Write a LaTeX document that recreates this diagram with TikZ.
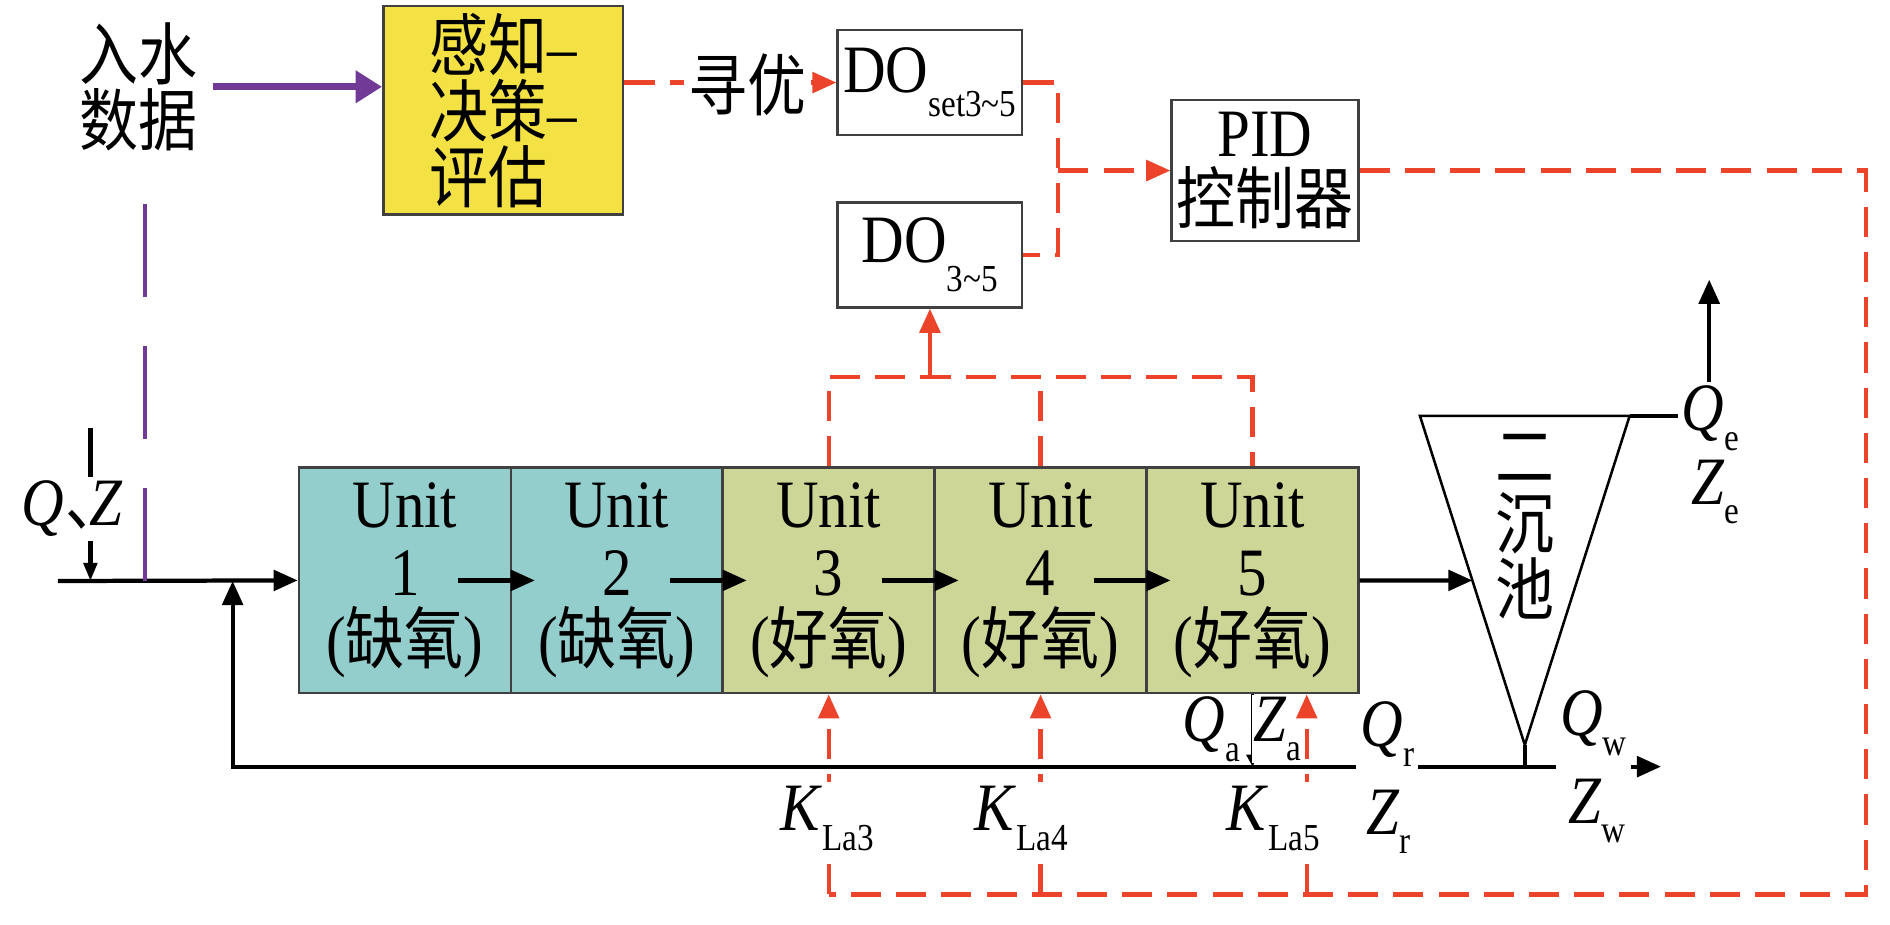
\documentclass[tikz,border=0pt]{standalone}
\usepackage{fontspec}
\setmainfont{Liberation Serif}[FakeStretch=0.87]
\newfontfamily\cjk{Noto Sans CJK SC}[FakeStretch=0.87]
\usetikzlibrary{arrows.meta, positioning, calc}
\definecolor{senseyellow}{RGB}{244,226,68}
\definecolor{anoxteal}{RGB}{148,206,204}
\definecolor{aerogreen}{RGB}{205,214,150}
\definecolor{ctrlred}{RGB}{236,68,42}
\definecolor{datapurple}{RGB}{112,58,150}
\newcommand{\lowsub}[2][0.16cm]{\raisebox{-#1}{\fontsize{9pt}{9pt}\selectfont #2}}
\newcommand{\bigcjk}{\fontsize{16pt}{15.6pt}\selectfont\cjk}

\begin{document}
\begin{tikzpicture}[font=\fontsize{16pt}{16pt}\selectfont, >={Triangle[length=0.2cm, width=0.17cm]}]
    % Define styles
    \tikzstyle{blockbox}=[draw=black!75, line width=0.6pt, inner sep=1pt]
    \tikzstyle{tank}=[blockbox, minimum width=1.758cm, minimum height=1.87cm, align=center]
    \tikzstyle{flow}=[line width=1pt, ->]
    \tikzstyle{ctrl}=[ctrlred, line width=1pt, dash pattern=on 0.25cm off 0.125cm]
    \tikzstyle{lbl}=[fill=white, inner sep=1pt]

    % Canvas
    \fill[white] (0,0) rectangle (15.68,-7.67);

    % Influent data and sensing block
    \node[align=center, font=\bigcjk] (indata) at (1.15,-0.72) {入水\\数据};
    \node[blockbox, fill=senseyellow, minimum width=1.99cm, minimum height=1.73cm, align=left, font=\bigcjk] (sense) at (4.175,-0.915) {感知{\rmfamily –}\\决策{\rmfamily –}\\评估};
    \draw[datapurple, line width=1.6pt, -{Triangle[length=0.22cm, width=0.26cm]}] (indata.east) -- (indata.east -| sense.west);

    % DO boxes and PID controller
    \node[blockbox, minimum width=1.53cm, minimum height=0.87cm, inner sep=0pt] (doset) at (7.715,-0.685) {DO\lowsub[0.2cm]{set3\textasciitilde5}};
    \node[blockbox, minimum width=1.53cm, minimum height=0.87cm] (dofb) at (7.715,-2.115) {DO\lowsub[0.24cm]{3\textasciitilde5}};
    \node[blockbox, minimum width=1.55cm, minimum height=1.17cm, align=center, inner sep=0pt] (pid) at (10.495,-1.415) {PID\\{\cjk 控制器}};

    % Reactor units (2 anoxic, 3 aerobic)
    \foreach \i/\x/\fc/\state in {1/3.359/anoxteal/缺氧, 2/5.117/anoxteal/缺氧, 3/6.875/aerogreen/好氧, 4/8.633/aerogreen/好氧, 5/10.391/aerogreen/好氧} {
        \node[tank, fill=\fc] (u\i) at (\x,-4.815) {Unit\\\i\\({\cjk \state})};
    }
    \foreach \i/\j in {1/2, 2/3, 3/4, 4/5} {
        \draw[flow] ([xshift=0.44cm]u\i.center) -- ([xshift=-0.68cm]u\j.center);
    }

    % Secondary clarifier
    \coordinate (stl) at (11.78,-3.45);
    \coordinate (str) at (13.52,-3.45);
    \coordinate (sbt) at (12.65,-6.18);
    \coordinate (sst) at (12.65,-6.36);
    \draw[line width=0.6pt] (stl) -- (str) -- (sbt) -- cycle;
    \draw[line width=1pt] (sbt) -- (sst);
    \node[align=center, font=\bigcjk] (clar) at (12.65,-4.37) {二\\沉\\池};
    \draw[flow] (u5.east) -- ($(stl)!0.5!(sbt)$);

    % Influent line
    \coordinate (inlet) at (0.48,-4.82);
    \coordinate (mix) at (1.93,-4.82);
    \coordinate (qztop) at (0.75,-3.55);
    \coordinate (tap) at (1.20,-4.82);
    \coordinate (tapend) at (1.20,-1.69);
    \draw[flow] (inlet) -- (u1.west);
    \draw[flow, >={Triangle[length=0.15cm, width=0.11cm]}] (qztop) -- (qztop |- inlet);
    \node[lbl] (qz) at (0.60,-4.22) {\textit{Q}\kern0.02em{\cjk 、}\kern-0.52em\textit{Z}};
    \draw[datapurple, line width=0.9pt, dash pattern=on 0.77cm off 0.41cm] (tap) -- (tapend);

    % Effluent
    \coordinate (effup) at (14.18,-2.32);
    \draw[flow] (str) -| (effup);
    \node[lbl] (qe) at (14.19,-3.47) {\textit{Q}\lowsub{e}};
    \node (ze) at (14.23,-4.08) {\textit{Z}\lowsub{e}};

    % Internal recycle, sludge return and waste
    \draw[line width=0.8pt, ->, >={Triangle[length=0.1cm, width=0.1cm]}] (u5.south) -- (u5.south |- sst);
    \node[lbl, inner sep=0.5pt] (qa) at (10.05,-6.05) {\textit{Q}\lowsub{a}};
    \node[lbl, inner sep=0.5pt] (za) at (10.60,-6.05) {\textit{Z}\lowsub{a}};
    \coordinate (wout) at (13.78,-6.36);
    \draw[flow] (sst) -| (mix);
    \draw[flow] (sst) -- (wout);
    \node[lbl] (qr) at (11.51,-6.09) {\textit{Q}\lowsub{r}};
    \node (zr) at (11.52,-6.82) {\textit{Z}\lowsub{r}};
    \node[lbl, inner ysep=4pt] (qw) at (13.22,-6.0) {\textit{Q}\lowsub{w}};
    \node (zw) at (13.25,-6.73) {\textit{Z}\lowsub{w}};

    % Optimisation and DO control loop
    \draw[ctrl, ->] (sense.east |- doset.west) -- (doset.west);
    \node[lbl, font=\bigcjk] (opt) at (6.2,-0.70) {寻优};
    \coordinate (jn) at (8.78,-1.415);
    \draw[ctrl] (doset.east) -| (jn) |- (dofb.east);
    \draw[ctrl, ->] (jn) -- (pid.west);

    % DO measurement from aerobic units
    \coordinate (aertop) at (7.715,-3.13);
    \draw[ctrl] (u3.north) |- (aertop) -| (u5.north);
    \draw[ctrl] (u4.north) -- (u4.north |- aertop);
    \draw[ctrlred, line width=1pt, ->] (aertop) -- (dofb.south);

    % KLa feedback to aerobic units
    \coordinate (fbcorner) at (15.48,-7.42);
    \draw[ctrl] (pid.east) -| (fbcorner) -- (fbcorner -| u3.south);
    \foreach \u/\dx in {3/0, 4/0, 5/0.45} {
        \coordinate (k\u) at ([xshift=\dx cm]u\u.south);
        \draw[ctrl, ->] (k\u |- fbcorner) -- (k\u);
    }
    \node[lbl] (kla3) at (6.86,-6.79) {\textit{K}\lowsub{La3}};
    \node[lbl] (kla4) at (8.47,-6.79) {\textit{K}\lowsub{La4}};
    \node[lbl] (kla5) at (10.56,-6.79) {\textit{K}\lowsub{La5}};
\end{tikzpicture}
\end{document}
